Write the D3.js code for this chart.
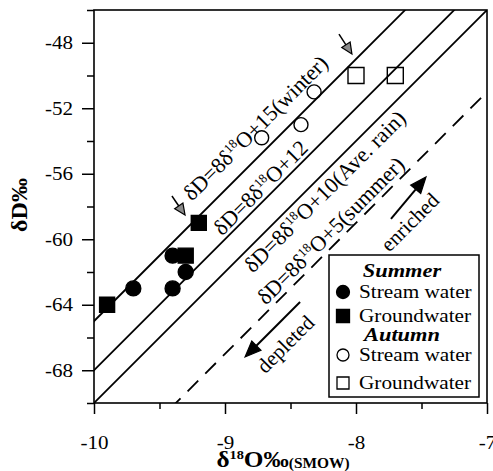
<!DOCTYPE html>
<html>
<head>
<meta charset="utf-8">
<script src="https://cdn.jsdelivr.net/npm/d3@7"></script>
<style>
  body { margin: 0; background: #fff; }
</style>
</head>
<body>
<div id="chart"></div>
<script>
// data
const xTicks = [-10, -9, -8, -7];
const xMinor = [-9.5, -8.5, -7.5];
const yTicks = [-68, -64, -60, -56, -52, -48];
const yMinor = [-70, -66, -62, -58, -54, -50, -46];

const summerStream = [[-9.7, -63], [-9.4, -63], [-9.3, -62], [-9.4, -61]];
const summerGround = [[-9.9, -64], [-9.3, -61], [-9.2, -59]];
const autumnStream = [[-8.72, -53.8], [-8.42, -53.0], [-8.32, -51.0]];
const autumnGround = [[-8.0, -50], [-7.7, -50]];

// dD = 8 d18O + d
const solidD = [15, 12, 10];
const dashedD = [5];
const lineNames = [
  [15, "O+15(winter)"],
  [12, "O+12"],
  [10, "O+10(Ave. rain)"],
  [5, "O+5(summer)"]
];

// label placement along each line: [start x, baseline offset px]
const labelPos = { 15: [-9.17, -15], 12: [-9.0, -4], 10: [-8.9, 21], 5: [-8.66, -5] };

// arrows [x1, y1, x2, y2] in data units
const grayArrows = [[-9.405, -57.36, -9.305, -58.52], [-8.13, -47.47, -8.031, -48.69]];
const blackArrows = [[-7.733, -58.76, -7.466, -56.2], [-8.427, -63.83, -8.847, -67.19]];
const arrowWords = [["enriched", -7.59, -58.95], ["depleted", -8.54, -66.4]];

const SERIF = "'Liberation Serif', 'Times New Roman', serif";
const W = 493, H = 471;
const svg = d3.select("#chart").append("svg").attr("width", W).attr("height", H)
  .attr("font-family", SERIF);

const x = d3.scaleLinear().domain([-10, -7]).range([94, 487]);
const y = d3.scaleLinear().domain([-70, -46]).range([403, 10]);

// widen glyphs a little, the scan is stretched horizontally
function stretch(sel, k) {
  sel.each(function() {
    const L = this.getComputedTextLength();
    d3.select(this).attr("textLength", L * k).attr("lengthAdjust", "spacingAndGlyphs");
  });
}

svg.append("defs").append("clipPath").attr("id", "plot")
  .append("rect").attr("x", x(-10)).attr("y", y(-46))
  .attr("width", x(-7) - x(-10)).attr("height", y(-70) - y(-46));

// axes
function styleAxis(g) {
  g.attr("font-family", SERIF).attr("font-size", 18);
  g.select(".domain").remove();
  g.selectAll("line").attr("stroke", "#000").attr("stroke-width", 1.5);
  g.selectAll("text").attr("fill", "#000").style("font-family", SERIF).style("font-size", "18px");
}
const xa = svg.append("g").attr("transform", `translate(0,${y(-70)})`)
  .call(d3.axisBottom(x).tickValues(xTicks).tickSize(11).tickPadding(22).tickFormat(d => String(d)))
  .call(styleAxis);
svg.append("g").attr("transform", `translate(0,${y(-70)})`)
  .call(d3.axisBottom(x).tickValues(xMinor).tickSize(6).tickFormat(""))
  .call(styleAxis);
const ya = svg.append("g").attr("transform", `translate(${x(-10)},0)`)
  .call(d3.axisLeft(y).tickValues(yTicks).tickSize(12).tickPadding(9).tickFormat(d => String(d)))
  .call(styleAxis);
svg.append("g").attr("transform", `translate(${x(-10)},0)`)
  .call(d3.axisLeft(y).tickValues(yMinor).tickSize(7).tickFormat(""))
  .call(styleAxis);
stretch(xa.selectAll("text"), 1.17);
stretch(ya.selectAll("text"), 1.17);

// frame
svg.append("rect")
  .attr("x", x(-10)).attr("y", y(-46))
  .attr("width", x(-7) - x(-10)).attr("height", y(-70) - y(-46))
  .attr("fill", "none").attr("stroke", "#000").attr("stroke-width", 1.6);

// meteoric water lines
const plot = svg.append("g").attr("clip-path", "url(#plot)");
const mwl = d => [[-10.5, 8 * -10.5 + d], [-6.5, 8 * -6.5 + d]];
const line = d3.line().x(p => x(p[0])).y(p => y(p[1]));
plot.selectAll("path.solid").data(solidD).join("path")
  .attr("d", d => line(mwl(d)))
  .attr("fill", "none").attr("stroke", "#000").attr("stroke-width", 1.8);
plot.selectAll("path.dash").data(dashedD).join("path")
  .attr("d", d => line(mwl(d)))
  .attr("fill", "none").attr("stroke", "#000").attr("stroke-width", 1.8)
  .attr("stroke-dasharray", "15,10");

// line labels
const ang = Math.atan2(y(-62) - y(-70), x(-9) - x(-10)) * 180 / Math.PI;
lineNames.forEach(([d, tail]) => {
  const [x0, off] = labelPos[d];
  const t = svg.append("text")
    .attr("transform", `translate(${x(x0)},${y(8 * x0 + d)}) rotate(${ang})`)
    .attr("y", off).style("font-family", SERIF).style("font-size", "22px");
  t.append("tspan").text("δD=8δ");
  t.append("tspan").text("18").style("font-size", "13px").attr("dy", -8);
  t.append("tspan").text(tail).attr("dy", 8);
});

// arrows
function arrow(a, head, fill, sw) {
  const x1 = x(a[0]), y1 = y(a[1]), x2 = x(a[2]), y2 = y(a[3]);
  const th = Math.atan2(y2 - y1, x2 - x1);
  const [L, Wd] = head;
  const bx = x2 - L * Math.cos(th), by = y2 - L * Math.sin(th);
  svg.append("line").attr("x1", x1).attr("y1", y1).attr("x2", bx).attr("y2", by)
    .attr("stroke", "#000").attr("stroke-width", sw);
  const px = -Math.sin(th) * Wd / 2, py = Math.cos(th) * Wd / 2;
  svg.append("path")
    .attr("d", `M${x2},${y2}L${bx + px},${by + py}L${bx - px},${by - py}Z`)
    .attr("fill", fill).attr("stroke", "#000").attr("stroke-width", 1.2);
}
grayArrows.forEach(a => arrow(a, [11, 10], "#8a8a8a", 1.5));
blackArrows.forEach(a => arrow(a, [16, 13], "#000", 2));

arrowWords.forEach(([w, wx, wy]) => {
  svg.append("text")
    .attr("transform", `translate(${x(wx)},${y(wy)}) rotate(${ang})`)
    .attr("text-anchor", "middle").attr("dy", "0.35em")
    .style("font-family", SERIF).style("font-size", "21px").text(w);
});

// points
const sym = {
  circle: d3.symbol().type(d3.symbolCircle).size(Math.PI * 7.5 * 7.5),
  square: d3.symbol().type(d3.symbolSquare).size(15 * 15),
  ocircle: d3.symbol().type(d3.symbolCircle).size(Math.PI * 7 * 7),
  osquare: d3.symbol().type(d3.symbolSquare).size(16 * 16)
};
function drawPts(data, s, filled) {
  svg.append("g").selectAll("path").data(data).join("path")
    .attr("transform", p => `translate(${x(p[0])},${y(p[1])})`)
    .attr("d", s)
    .attr("fill", filled ? "#000" : "none")
    .attr("stroke", "#000").attr("stroke-width", 1.4);
}
drawPts(autumnStream, sym.ocircle, false);
drawPts(autumnGround, sym.osquare, false);
drawPts(summerStream, sym.circle, true);
drawPts(summerGround, sym.square, true);

// legend
const lg = svg.append("g");
lg.append("rect").attr("x", 329).attr("y", 255).attr("width", 150).attr("height", 142)
  .attr("fill", "#fff").attr("stroke", "#000").attr("stroke-width", 1.5);
const legendRows = [
  { head: "Summer", y: 277 },
  { sym: d3.symbol().type(d3.symbolCircle).size(Math.PI * 42), fill: true, label: "Stream water", y: 298 },
  { sym: d3.symbol().type(d3.symbolSquare).size(169), fill: true, label: "Groundwater", y: 322 },
  { head: "Autumn", y: 341 },
  { sym: d3.symbol().type(d3.symbolCircle).size(Math.PI * 36), fill: false, label: "Stream water", y: 361 },
  { sym: d3.symbol().type(d3.symbolSquare).size(144), fill: false, label: "Groundwater", y: 389 }
];
legendRows.forEach(r => {
  if (r.head) {
    const t = lg.append("text").attr("x", 402).attr("y", r.y).attr("text-anchor", "middle")
      .style("font-family", SERIF).style("font-size", "19px")
      .style("font-weight", "bold").style("font-style", "italic")
      .text(r.head);
    stretch(t, 1.18);
  } else {
    lg.append("path").attr("transform", `translate(343,${r.y - 6})`).attr("d", r.sym)
      .attr("fill", r.fill ? "#000" : "none").attr("stroke", "#000").attr("stroke-width", 1.3);
    const t = lg.append("text").attr("x", 359).attr("y", r.y)
      .style("font-family", SERIF).style("font-size", "18px").text(r.label);
    stretch(t, 1.18);
  }
});

// axis titles
const xt = svg.append("text").attr("x", 283).attr("y", 467).attr("text-anchor", "middle")
  .style("font-family", SERIF).style("font-weight", "bold").style("font-size", "23px");
xt.append("tspan").text("δ");
xt.append("tspan").text("18").style("font-size", "13px").attr("dy", -8);
xt.append("tspan").text("O‰").attr("dy", 8);
xt.append("tspan").text("(SMOW)").style("font-size", "14px").attr("dy", 1);
stretch(xt, 1.1);

svg.append("text").attr("transform", "translate(27,205) rotate(-90)")
  .attr("text-anchor", "middle").style("font-family", SERIF)
  .style("font-weight", "bold").style("font-size", "24px")
  .text("δD‰");
</script>
</body>
</html>
